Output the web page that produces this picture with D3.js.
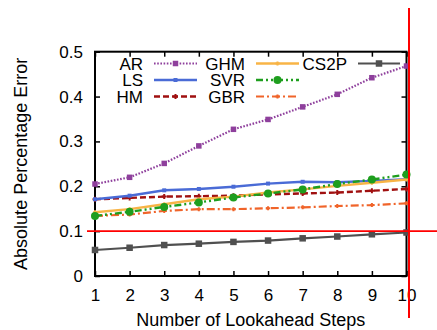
<!DOCTYPE html>
<html>
<head>
<meta charset="utf-8">
<script src="https://cdn.jsdelivr.net/npm/d3@7"></script>
<style>
  body { margin: 0; background: #fff; }
  text { font-family: "Liberation Sans", Arial, sans-serif; fill: #000; }
</style>
</head>
<body>
<svg id="chart" width="437" height="330"></svg>
<script>
// values
const steps = [1, 2, 3, 4, 5, 6, 7, 8, 9, 10];
const arVals   = [0.205, 0.220, 0.251, 0.290, 0.327, 0.349, 0.377, 0.405, 0.442, 0.468];
const lsVals   = [0.171, 0.179, 0.191, 0.194, 0.199, 0.206, 0.210, 0.209, 0.212, 0.216];
const hmVals   = [0.171, 0.174, 0.177, 0.178, 0.179, 0.182, 0.184, 0.186, 0.190, 0.194];
const ghmVals  = [0.142, 0.149, 0.160, 0.171, 0.177, 0.186, 0.193, 0.201, 0.208, 0.215];
const svrVals  = [0.134, 0.143, 0.154, 0.164, 0.175, 0.184, 0.193, 0.205, 0.215, 0.226];
const gbrVals  = [0.134, 0.137, 0.145, 0.149, 0.149, 0.151, 0.153, 0.156, 0.158, 0.162];
const cs2pVals = [0.058, 0.063, 0.069, 0.072, 0.076, 0.079, 0.084, 0.088, 0.093, 0.097];
const yTicks = [0, 0.1, 0.2, 0.3, 0.4, 0.5];
const threshold = 0.1;

const series = [
  { name: 'AR',   vals: arVals,   color: '#8e3f9c', dash: '1.6,1.6', width: 2.2, marker: 'square', size: 5.5, col: 0, row: 0 },
  { name: 'LS',   vals: lsVals,   color: '#4a6bd6', dash: null,      width: 2.4, marker: 'square', size: 4,   col: 0, row: 1 },
  { name: 'HM',   vals: hmVals,   color: '#a01010', dash: '6,3',     width: 2.4, marker: 'plus',   size: 5,   col: 0, row: 2 },
  { name: 'GHM',  vals: ghmVals,  color: '#f8b446', dash: null,      width: 2.4, marker: 'plus',   size: 4,   col: 1, row: 0 },
  { name: 'SVR',  vals: svrVals,  color: '#1e9e1e', dash: '7,3,2,3,2,3', width: 2.4, marker: 'circle', size: 4, col: 1, row: 1 },
  { name: 'GBR',  vals: gbrVals,  color: '#f0642a', dash: '8,3,2,3', width: 2.2, marker: 'plus',   size: 4,   col: 1, row: 2 },
  { name: 'CS2P', vals: cs2pVals, color: '#505050', dash: null,      width: 2.2, marker: 'square', size: 6.5, col: 2, row: 0 }
];

const box = { left: 95, right: 406.5, top: 51.7, bottom: 276 };
const svg = d3.select('#chart');

const x = d3.scaleLinear().domain([1, 10]).range([box.left, box.right]);
const y = d3.scaleLinear().domain([0, 0.5]).range([box.bottom, box.top]);

// axes with inward ticks on all four sides
const fmtY = d => d === 0 ? '0' : d3.format('.1f')(d);
svg.append('g').attr('transform', 'translate(0,' + box.bottom + ')')
  .call(d3.axisBottom(x).tickValues(steps).tickSize(-5).tickPadding(13).tickFormat(d3.format('d')));
svg.append('g').attr('transform', 'translate(0,' + box.top + ')')
  .call(d3.axisTop(x).tickValues(steps).tickSize(-5).tickFormat(''));
svg.append('g').attr('transform', 'translate(' + box.left + ',0)')
  .call(d3.axisLeft(y).tickValues(yTicks).tickSize(-5).tickPadding(12).tickFormat(fmtY));
svg.append('g').attr('transform', 'translate(' + box.right + ',0)')
  .call(d3.axisRight(y).tickValues(yTicks).tickSize(-5).tickFormat(''));

svg.selectAll('.domain').remove();
svg.selectAll('.tick line').attr('stroke', '#000').attr('stroke-width', 1.5);
svg.selectAll('.tick text').style('font-size', '17px').attr('fill', '#000');

svg.append('rect')
  .attr('x', box.left).attr('y', box.top)
  .attr('width', box.right - box.left).attr('height', box.bottom - box.top)
  .attr('fill', 'none').attr('stroke', '#000').attr('stroke-width', 2);

// axis titles
svg.append('text')
  .attr('x', (box.left + box.right) / 2).attr('y', 326)
  .attr('text-anchor', 'middle').style('font-size', '18px')
  .text('Number of Lookahead Steps');
svg.append('text')
  .attr('transform', 'translate(27,' + (box.top + box.bottom) / 2 + ') rotate(-90)')
  .attr('text-anchor', 'middle').style('font-size', '18px')
  .text('Absolute Percentage Error');

function drawMarker(g, s, cx, cy) {
  if (s.marker === 'square') {
    g.append('rect')
      .attr('x', cx - s.size / 2).attr('y', cy - s.size / 2)
      .attr('width', s.size).attr('height', s.size)
      .attr('fill', s.color);
  } else if (s.marker === 'circle') {
    g.append('circle').attr('cx', cx).attr('cy', cy).attr('r', s.size).attr('fill', s.color);
  } else {
    g.append('path')
      .attr('d', 'M' + (cx - s.size / 2) + ',' + cy + 'h' + s.size + 'M' + cx + ',' + (cy - s.size / 2) + 'v' + s.size)
      .attr('stroke', s.color).attr('stroke-width', 2);
  }
}

const line = d3.line().x((d, i) => x(steps[i])).y(d => y(d));

// series, drawn back to front
const order = ['GBR', 'HM', 'LS', 'GHM', 'SVR', 'AR', 'CS2P'];
order.forEach(nm => {
  const s = series.find(d => d.name === nm);
  const g = svg.append('g');
  g.append('path')
    .datum(s.vals)
    .attr('d', line)
    .attr('fill', 'none')
    .attr('stroke', s.color)
    .attr('stroke-width', s.width)
    .attr('stroke-dasharray', s.dash);
  s.vals.forEach((v, i) => drawMarker(g, s, x(steps[i]), y(v)));
});

// legend
const legCols = [
  { label: 143, x0: 154, x1: 197 },
  { label: 245, x0: 256, x1: 299 },
  { label: 347, x0: 358, x1: 400 }
];
const legRows = [63.5, 80, 96.5];
series.forEach(s => {
  const c = legCols[s.col], ry = legRows[s.row];
  const g = svg.append('g');
  g.append('text')
    .attr('x', c.label).attr('y', ry + 6)
    .attr('text-anchor', 'end').style('font-size', '17px')
    .text(s.name);
  g.append('line')
    .attr('x1', c.x0).attr('x2', c.x1).attr('y1', ry).attr('y2', ry)
    .attr('stroke', s.color).attr('stroke-width', s.width)
    .attr('stroke-dasharray', s.dash);
  drawMarker(g, s, (c.x0 + c.x1) / 2, ry);
});

// red threshold lines
svg.append('line')
  .attr('x1', 87).attr('x2', 437)
  .attr('y1', y(threshold)).attr('y2', y(threshold))
  .attr('stroke', '#ff0000').attr('stroke-width', 1.8);
svg.append('line')
  .attr('x1', x(10) + 2.5).attr('x2', x(10) + 2.5)
  .attr('y1', 8).attr('y2', 318)
  .attr('stroke', '#ff0000').attr('stroke-width', 2);
</script>
</body>
</html>
